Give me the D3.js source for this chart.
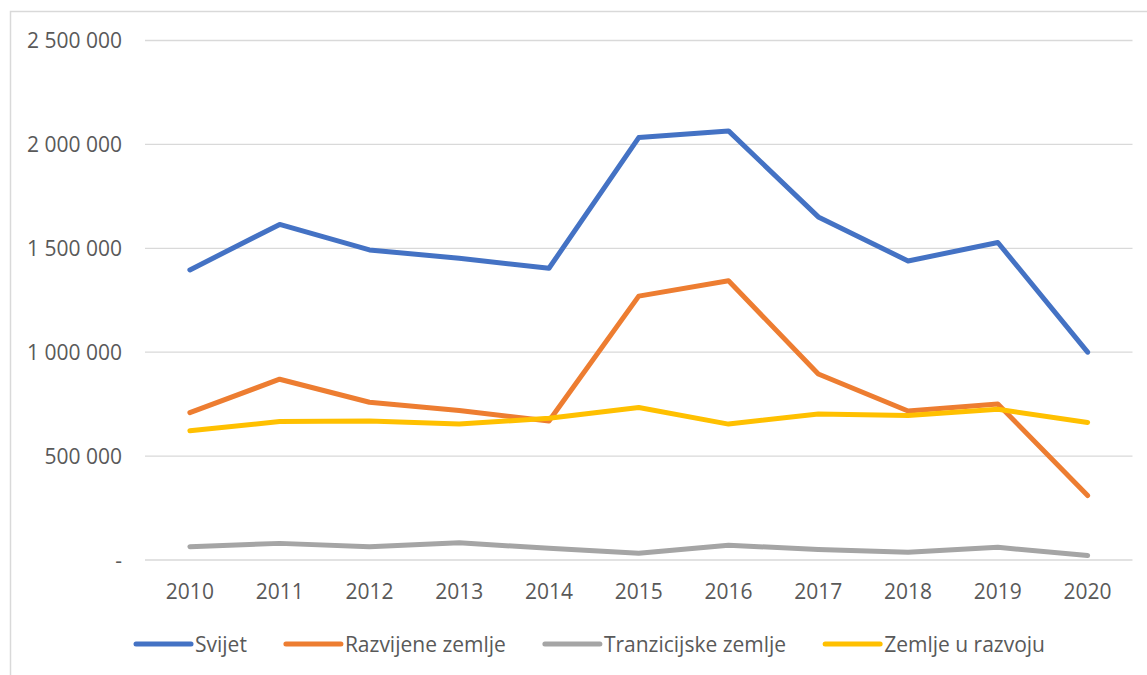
<!DOCTYPE html>
<html>
<head>
<meta charset="utf-8">
<script src="https://cdn.jsdelivr.net/npm/d3@7"></script>
<style>
  body { margin: 0; background: #fff; }
  text { font-family: "Open Sans", sans-serif; fill: #595959; }
</style>
</head>
<body>
<svg width="1147" height="675"></svg>
<script>
"use strict";

var years = ['2010', '2011', '2012', '2013', '2014', '2015', '2016', '2017', '2018', '2019', '2020'];

var svijet = [1396000, 1615000, 1492000, 1452000, 1404000, 2033000, 2065000, 1651000, 1439000, 1528000, 1000000];
var razvijene = [709000, 870000, 759000, 719000, 669000, 1270000, 1344000, 895000, 717000, 751000, 310000];
var tranzicijske = [64000, 80000, 64000, 83000, 56000, 32000, 71000, 51000, 37000, 61000, 22000];
var uRazvoju = [622000, 666000, 669000, 654000, 682000, 734000, 654000, 703000, 695000, 725000, 662000];

var seriesNames = ['Svijet', 'Razvijene zemlje', 'Tranzicijske zemlje', 'Zemlje u razvoju'];
var seriesValues = [svijet, razvijene, tranzicijske, uRazvoju];
var colors = ['#4472C4', '#ED7D31', '#A5A5A5', '#FFC000'];

var yTicks = [0, 500000, 1000000, 1500000, 2000000, 2500000];

var svg = d3.select('svg');

// chart area border
svg.append('rect')
    .attr('x', 10.5)
    .attr('y', 11.5)
    .attr('width', 1200)
    .attr('height', 700)
    .attr('fill', 'none')
    .attr('stroke', '#D9D9D9')
    .attr('stroke-width', 1.5);

var xScale = d3.scalePoint()
    .domain(years)
    .range([145, 1132.5])
    .padding(0.5);

var yScale = d3.scaleLinear()
    .domain([0, 2500000])
    .range([560, 40.5]);

var fmt = function (d) {
    if (d === 0) return '-';
    return d3.format(',')(d).replace(/,/g, ' ');
};

// gridlines
svg.append('g')
    .selectAll('line')
    .data(yTicks)
    .enter()
    .append('line')
    .attr('x1', 145)
    .attr('x2', 1132.5)
    .attr('y1', function (d) { return yScale(d); })
    .attr('y2', function (d) { return yScale(d); })
    .attr('stroke', '#D9D9D9')
    .attr('stroke-width', 1.3);

// y labels
svg.append('g')
    .selectAll('text')
    .data(yTicks)
    .enter()
    .append('text')
    .attr('x', 122)
    .attr('y', function (d) { return yScale(d); })
    .attr('dy', '0.36em')
    .attr('text-anchor', 'end')
    .style('font-size', '21px')
    .text(fmt);

// x labels
svg.append('g')
    .selectAll('text')
    .data(years)
    .enter()
    .append('text')
    .attr('x', function (d) { return xScale(d); })
    .attr('y', 599)
    .attr('text-anchor', 'middle')
    .style('font-size', '21px')
    .text(function (d) { return d; });

var line = d3.line()
    .x(function (d, i) { return xScale(years[i]); })
    .y(function (d) { return yScale(d); });

svg.append('g')
    .selectAll('path')
    .data(seriesValues)
    .enter()
    .append('path')
    .attr('d', line)
    .attr('fill', 'none')
    .attr('stroke', function (d, i) { return colors[i]; })
    .attr('stroke-width', 5)
    .attr('stroke-linecap', 'round')
    .attr('stroke-linejoin', 'round');

// legend
var legend = svg.append('g');
var items = legend.selectAll('g')
    .data(seriesNames)
    .enter()
    .append('g');

items.append('line')
    .attr('x1', 0)
    .attr('x2', 55)
    .attr('y1', 644)
    .attr('y2', 644)
    .attr('stroke', function (d, i) { return colors[i]; })
    .attr('stroke-width', 5)
    .attr('stroke-linecap', 'round');

items.append('text')
    .attr('x', 59)
    .attr('y', 644)
    .attr('dy', '0.36em')
    .style('font-size', '21px')
    .text(function (d) { return d; });

var pos = 0;
var offsets = [];
items.each(function () {
    var w = d3.select(this).select('text').node().getComputedTextLength();
    offsets.push(pos);
    pos += 59 + w + 39;
});
var total = pos - 39;
var start = 590.5 - total / 2;
items.attr('transform', function (d, i) {
    return 'translate(' + (start + offsets[i]) + ',0)';
});
</script>
</body>
</html>
